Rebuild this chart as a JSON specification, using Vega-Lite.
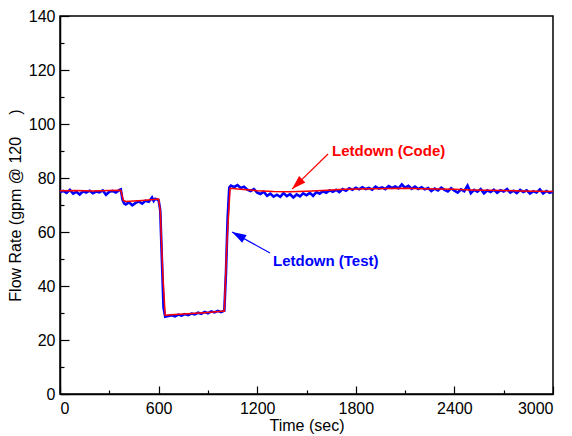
{
  "$schema": "https://vega.github.io/schema/vega-lite/v6.json",
  "width": 493,
  "height": 378,
  "autosize": {"type": "none"},
  "padding": {"left": 60, "top": 16, "right": 19, "bottom": 42},
  "background": "white",
  "config": {
    "font": "Liberation Sans",
    "view": {"stroke": "black", "strokeWidth": 1.5},
    "axis": {"grid": false, "domainColor": "black", "domainWidth": 1.5, "tickColor": "black", "tickWidth": 1.2, "labelFont": "Liberation Sans", "labelFontSize": 16, "labelColor": "black", "titleFont": "Liberation Sans", "titleFontSize": 16, "titleFontWeight": "normal", "titleColor": "black"}
  },
  "datasets": {
    "flow": [
      {"t":0,"v":74.8,"s":"Test"},{"t":20,"v":75.2,"s":"Test"},{"t":40,"v":74.5,"s":"Test"},{"t":60,"v":75.6,"s":"Test"},{"t":80,"v":74.2,"s":"Test"},{"t":100,"v":74.9,"s":"Test"},{"t":120,"v":73.9,"s":"Test"},{"t":140,"v":75.1,"s":"Test"},{"t":160,"v":74.6,"s":"Test"},{"t":180,"v":75.3,"s":"Test"},{"t":200,"v":74.4,"s":"Test"},{"t":220,"v":75.0,"s":"Test"},{"t":240,"v":74.7,"s":"Test"},{"t":260,"v":75.4,"s":"Test"},{"t":280,"v":73.8,"s":"Test"},{"t":300,"v":74.9,"s":"Test"},{"t":320,"v":75.2,"s":"Test"},{"t":340,"v":74.6,"s":"Test"},{"t":360,"v":75.5,"s":"Test"},{"t":370,"v":75.8,"s":"Test"},{"t":380,"v":72.0,"s":"Test"},{"t":390,"v":70.6,"s":"Test"},{"t":400,"v":70.2,"s":"Test"},{"t":420,"v":71.0,"s":"Test"},{"t":440,"v":69.9,"s":"Test"},{"t":460,"v":70.8,"s":"Test"},{"t":480,"v":71.3,"s":"Test"},{"t":500,"v":70.5,"s":"Test"},{"t":520,"v":71.6,"s":"Test"},{"t":540,"v":71.2,"s":"Test"},{"t":560,"v":72.8,"s":"Test"},{"t":570,"v":71.5,"s":"Test"},{"t":580,"v":72.3,"s":"Test"},{"t":600,"v":71.8,"s":"Test"},{"t":610,"v":68,"s":"Test"},{"t":620,"v":50,"s":"Test"},{"t":630,"v":32,"s":"Test"},{"t":640,"v":28.6,"s":"Test"},{"t":660,"v":28.9,"s":"Test"},{"t":680,"v":29.2,"s":"Test"},{"t":700,"v":28.8,"s":"Test"},{"t":720,"v":29.4,"s":"Test"},{"t":740,"v":29.0,"s":"Test"},{"t":760,"v":29.6,"s":"Test"},{"t":780,"v":29.2,"s":"Test"},{"t":800,"v":29.8,"s":"Test"},{"t":820,"v":29.5,"s":"Test"},{"t":840,"v":30.1,"s":"Test"},{"t":860,"v":29.7,"s":"Test"},{"t":880,"v":30.4,"s":"Test"},{"t":900,"v":29.9,"s":"Test"},{"t":920,"v":30.6,"s":"Test"},{"t":940,"v":30.2,"s":"Test"},{"t":960,"v":30.8,"s":"Test"},{"t":980,"v":30.3,"s":"Test"},{"t":1000,"v":30.9,"s":"Test"},{"t":1010,"v":45,"s":"Test"},{"t":1020,"v":65,"s":"Test"},{"t":1030,"v":76.5,"s":"Test"},{"t":1040,"v":77.2,"s":"Test"},{"t":1060,"v":76.6,"s":"Test"},{"t":1080,"v":77.4,"s":"Test"},{"t":1100,"v":76.3,"s":"Test"},{"t":1120,"v":76.8,"s":"Test"},{"t":1140,"v":75.7,"s":"Test"},{"t":1160,"v":75.2,"s":"Test"},{"t":1180,"v":75.9,"s":"Test"},{"t":1200,"v":74.6,"s":"Test"},{"t":1220,"v":74.1,"s":"Test"},{"t":1240,"v":74.9,"s":"Test"},{"t":1260,"v":73.4,"s":"Test"},{"t":1280,"v":74.2,"s":"Test"},{"t":1300,"v":73.1,"s":"Test"},{"t":1320,"v":73.8,"s":"Test"},{"t":1340,"v":73.0,"s":"Test"},{"t":1360,"v":74.4,"s":"Test"},{"t":1380,"v":73.3,"s":"Test"},{"t":1400,"v":74.0,"s":"Test"},{"t":1420,"v":72.8,"s":"Test"},{"t":1440,"v":73.9,"s":"Test"},{"t":1460,"v":73.2,"s":"Test"},{"t":1480,"v":74.3,"s":"Test"},{"t":1500,"v":73.6,"s":"Test"},{"t":1520,"v":74.5,"s":"Test"},{"t":1540,"v":73.4,"s":"Test"},{"t":1560,"v":74.8,"s":"Test"},{"t":1580,"v":74.2,"s":"Test"},{"t":1600,"v":75.1,"s":"Test"},{"t":1620,"v":74.5,"s":"Test"},{"t":1640,"v":75.4,"s":"Test"},{"t":1660,"v":74.9,"s":"Test"},{"t":1680,"v":75.6,"s":"Test"},{"t":1700,"v":74.8,"s":"Test"},{"t":1720,"v":75.9,"s":"Test"},{"t":1740,"v":75.3,"s":"Test"},{"t":1760,"v":76.2,"s":"Test"},{"t":1780,"v":75.6,"s":"Test"},{"t":1800,"v":76.4,"s":"Test"},{"t":1820,"v":75.8,"s":"Test"},{"t":1840,"v":76.6,"s":"Test"},{"t":1860,"v":75.9,"s":"Test"},{"t":1880,"v":76.3,"s":"Test"},{"t":1900,"v":75.7,"s":"Test"},{"t":1920,"v":76.8,"s":"Test"},{"t":1940,"v":76.1,"s":"Test"},{"t":1960,"v":76.5,"s":"Test"},{"t":1980,"v":75.9,"s":"Test"},{"t":2000,"v":77.0,"s":"Test"},{"t":2020,"v":76.3,"s":"Test"},{"t":2040,"v":76.9,"s":"Test"},{"t":2060,"v":76.2,"s":"Test"},{"t":2080,"v":77.6,"s":"Test"},{"t":2100,"v":76.4,"s":"Test"},{"t":2120,"v":77.1,"s":"Test"},{"t":2140,"v":76.0,"s":"Test"},{"t":2160,"v":76.8,"s":"Test"},{"t":2180,"v":75.9,"s":"Test"},{"t":2200,"v":76.6,"s":"Test"},{"t":2220,"v":75.8,"s":"Test"},{"t":2240,"v":76.3,"s":"Test"},{"t":2260,"v":75.2,"s":"Test"},{"t":2280,"v":76.1,"s":"Test"},{"t":2300,"v":75.4,"s":"Test"},{"t":2320,"v":76.4,"s":"Test"},{"t":2340,"v":75.6,"s":"Test"},{"t":2360,"v":75.0,"s":"Test"},{"t":2380,"v":76.2,"s":"Test"},{"t":2400,"v":75.3,"s":"Test"},{"t":2420,"v":74.6,"s":"Test"},{"t":2440,"v":75.8,"s":"Test"},{"t":2460,"v":75.1,"s":"Test"},{"t":2480,"v":77.2,"s":"Test"},{"t":2500,"v":74.4,"s":"Test"},{"t":2520,"v":75.6,"s":"Test"},{"t":2540,"v":74.9,"s":"Test"},{"t":2560,"v":75.9,"s":"Test"},{"t":2580,"v":74.3,"s":"Test"},{"t":2600,"v":75.4,"s":"Test"},{"t":2620,"v":74.8,"s":"Test"},{"t":2640,"v":75.7,"s":"Test"},{"t":2660,"v":74.5,"s":"Test"},{"t":2680,"v":75.5,"s":"Test"},{"t":2700,"v":75.0,"s":"Test"},{"t":2720,"v":75.9,"s":"Test"},{"t":2740,"v":74.6,"s":"Test"},{"t":2760,"v":75.3,"s":"Test"},{"t":2780,"v":74.4,"s":"Test"},{"t":2800,"v":75.6,"s":"Test"},{"t":2820,"v":74.8,"s":"Test"},{"t":2840,"v":75.4,"s":"Test"},{"t":2860,"v":74.2,"s":"Test"},{"t":2880,"v":75.1,"s":"Test"},{"t":2900,"v":74.6,"s":"Test"},{"t":2920,"v":75.8,"s":"Test"},{"t":2940,"v":74.3,"s":"Test"},{"t":2960,"v":75.2,"s":"Test"},{"t":2980,"v":74.5,"s":"Test"},{"t":3000,"v":75.0,"s":"Test"},
      {"t":0,"v":75.3,"s":"Code"},{"t":100,"v":75.4,"s":"Code"},{"t":200,"v":75.2,"s":"Code"},{"t":300,"v":75.4,"s":"Code"},{"t":370,"v":75.5,"s":"Code"},{"t":385,"v":71.8,"s":"Code"},{"t":400,"v":71.3,"s":"Code"},{"t":500,"v":71.7,"s":"Code"},{"t":600,"v":72.2,"s":"Code"},{"t":610,"v":68,"s":"Code"},{"t":625,"v":45,"s":"Code"},{"t":640,"v":29.2,"s":"Code"},{"t":700,"v":29.4,"s":"Code"},{"t":800,"v":29.8,"s":"Code"},{"t":900,"v":30.2,"s":"Code"},{"t":1000,"v":30.7,"s":"Code"},{"t":1015,"v":55,"s":"Code"},{"t":1035,"v":76.2,"s":"Code"},{"t":1100,"v":75.8,"s":"Code"},{"t":1200,"v":75.3,"s":"Code"},{"t":1300,"v":75.0,"s":"Code"},{"t":1400,"v":74.9,"s":"Code"},{"t":1500,"v":75.1,"s":"Code"},{"t":1600,"v":75.4,"s":"Code"},{"t":1700,"v":75.7,"s":"Code"},{"t":1800,"v":75.9,"s":"Code"},{"t":1900,"v":76.0,"s":"Code"},{"t":2000,"v":76.1,"s":"Code"},{"t":2100,"v":76.2,"s":"Code"},{"t":2200,"v":76.0,"s":"Code"},{"t":2300,"v":75.9,"s":"Code"},{"t":2400,"v":75.8,"s":"Code"},{"t":2500,"v":75.6,"s":"Code"},{"t":2600,"v":75.5,"s":"Code"},{"t":2700,"v":75.4,"s":"Code"},{"t":2800,"v":75.2,"s":"Code"},{"t":2900,"v":75.1,"s":"Code"},{"t":3000,"v":75.0,"s":"Code"}
    ],
    "arrows": [
      {"a":"Code","t":1631,"v":88.9},{"a":"Code","t":1412,"v":75.9},
      {"a":"Test","t":1278,"v":52.2},{"a":"Test","t":1047,"v":60.0}
    ],
    "labels": [
      {"a":"Code","t":1655,"v":90.0,"text":"Letdown (Code)"},
      {"a":"Test","t":1296,"v":49.3,"text":"Letdown (Test)"}
    ]
  },
  "encoding": {
    "x": {"field": "t", "type": "quantitative", "scale": {"domain": [0, 3000], "nice": false, "zero": false},
      "axis": {"title": "Time (sec)", "format": "d", "values": [0,300,600,900,1200,1500,1800,2100,2400,2700,3000],
        "labelExpr": "datum.value % 600 === 0 ? datum.label : ''",
        "tickSize": {"condition": {"test": "datum.value % 600 === 0", "value": -8}, "value": -4},
        "labelPadding": 14, "titlePadding": 1}},
    "y": {"field": "v", "type": "quantitative", "scale": {"domain": [0, 140], "nice": false},
      "axis": {"title": "Flow Rate (gpm @ 120\u00a0\u00a0\u00a0\u00a0\u00a0)", "values": [0,10,20,30,40,50,60,70,80,90,100,110,120,130,140],
        "labelExpr": "datum.value % 20 === 0 ? datum.label : ''",
        "tickSize": {"condition": {"test": "datum.value % 20 === 0", "value": -9}, "value": -4},
        "labelPadding": 14, "titlePadding": 5}}
  },
  "layer": [
    {"data": {"name": "flow"}, "transform": [{"filter": "datum.s === 'Test'"}],
     "mark": {"type": "line", "color": "#0000ff", "strokeWidth": 2.6}},
    {"data": {"name": "flow"}, "transform": [{"filter": "datum.s === 'Code'"}],
     "mark": {"type": "line", "color": "#ff0000", "strokeWidth": 1.5}},
    {"data": {"name": "arrows"}, "transform": [{"filter": "datum.a === 'Code'"}],
     "mark": {"type": "line", "color": "#ff0000", "strokeWidth": 1.2}},
    {"data": {"name": "arrows"}, "transform": [{"filter": "datum.a === 'Test'"}],
     "mark": {"type": "line", "color": "#0000ff", "strokeWidth": 1.2}},
    {"data": {"name": "arrows"}, "transform": [{"filter": "datum.a === 'Code' && datum.t < 1500"}],
     "mark": {"type": "point", "shape": "M0,0L0.32,1L-0.32,1Z", "filled": true, "color": "#ff0000", "opacity": 1, "size": 800, "angle": 226}},
    {"data": {"name": "arrows"}, "transform": [{"filter": "datum.a === 'Test' && datum.t < 1100"}],
     "mark": {"type": "point", "shape": "M0,0L0.32,1L-0.32,1Z", "filled": true, "color": "#0000ff", "opacity": 1, "size": 800, "angle": 299}},
    {"data": {"name": "labels"}, "transform": [{"filter": "datum.a === 'Code'"}],
     "mark": {"type": "text", "align": "left", "baseline": "middle", "fontWeight": "bold", "fontSize": 15, "color": "#ff0000", "font": "Liberation Sans"},
     "encoding": {"text": {"field": "text"}}},
    {"data": {"name": "labels"}, "transform": [{"filter": "datum.a === 'Test'"}],
     "mark": {"type": "text", "align": "left", "baseline": "middle", "fontWeight": "bold", "fontSize": 15, "color": "#0000ff", "font": "Liberation Sans"},
     "encoding": {"text": {"field": "text"}}}
  ]
}
